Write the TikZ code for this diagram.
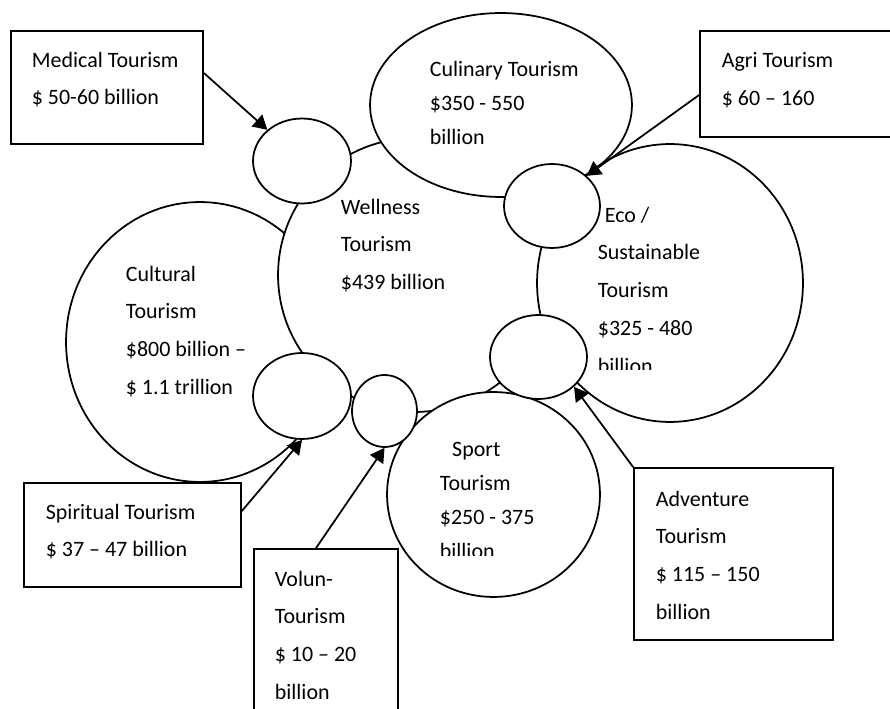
\documentclass[tikz,border=0pt]{standalone}
\usepackage{fontspec}
\setmainfont{Carlito}
\usetikzlibrary{arrows.meta, shapes, fit, positioning}
\begin{document}
\begin{tikzpicture}[x=0.02cm, y=-0.02cm, line width=1pt,
    ell/.style 2 args={ellipse, draw, fill=white, inner sep=0, minimum width=#1*0.04cm, minimum height=#2*0.04cm},
    box/.style={rectangle, draw, fill=white, inner sep=0},
    txt/.style={anchor=north west, inner sep=0, align=left, font=\fontsize{12.5}{21.5}\selectfont},
    arr/.style={-{Triangle[length=8pt,width=9pt]}}]
  \useasboundingbox (0,0) rectangle (890,709);
  \node[ell={134}{140}] (cultural) at (200,342) {};
  \node[txt] (culttxt) at (125,265) {Cultural\\Tourism\\\$800 billion --\\\$ 1.1 trillion};
  \node[ell={137}{137}] (wellness) at (415,275) {};
  \node[txt] (welltxt) at (340,198) {Wellness\\Tourism\\\$439 billion};
  \node[ell={49}{42.5}] (medell) at (302,161) {};
  \node[ell={131}{92}] (culinary) at (501,105) {};
  \node[txt, font=\fontsize{12.5}{19.5}\selectfont] (culitxt) at (429,60) {Culinary Tourism\\\$350 - 550\\billion};
  \node[ell={133}{139}] (eco) at (670,283) {};
  \begin{scope}
    \clip (590,200) rectangle (730,370);
    \node[txt] (ecotxt) at (597,206) {\hspace*{4pt}Eco /\\Sustainable\\Tourism\\\$325 - 480\\billion};
  \end{scope}
  \node[ell={48}{42}] (agriell) at (552,206) {};
  \node[ell={106.5}{102.5}] (sport) at (493.5,494.5) {};
  \begin{scope}
    \clip (430,430) rectangle (570,556);
    \node[txt, font=\fontsize{12.5}{19.5}\selectfont] (sporttxt) at (439,441) {\hspace*{7pt}Sport\\Tourism\\\$250 - 375\\billion};
  \end{scope}
  \node[ell={32.5}{36}] (volell) at (384.5,411) {};
  \node[ell={49}{43}] (spirell) at (302,396) {};
  \node[ell={48.5}{42}] (advell) at (538.5,357) {};

  \node[box, fit={(11,31) (203,144)}] (medbox) {};
  \node[txt] (medtxt) at (31,51) {Medical Tourism\\\$ 50-60 billion};
  \node[box, fit={(700,31) (900,137)}] (agribox) {};
  \node[txt] (agritxt) at (721,52) {Agri Tourism\\\$ 60 -- 160};
  \node[box, fit={(634,468) (833,640)}] (advbox) {};
  \node[txt] (advtxt) at (655,490) {Adventure\\Tourism\\\$ 115 -- 150\\billion};
  \node[box, fit={(24,483) (241,587)}] (spirbox) {};
  \node[txt] (spirtxt) at (45,503) {Spiritual Tourism\\\$ 37 -- 47 billion};
  \node[box, fit={(254,549) (398,720)}] (volbox) {};
  \node[txt] (voltxt) at (274,570) {Volun-\\Tourism\\\$ 10 -- 20\\billion};

  \draw[arr] (medbox.east |- 0,73) -- (medell.138);
  \draw[arr] (agribox.west |- 0,95) -- (agriell.41);
  \draw[arr] (advbox.north west) -- (advell.-40);
  \draw[arr] (spirbox.east |- 0,511) -- (spirell.south);
  \draw[arr] (volbox.north -| 316,0) -- (volell.south);
\end{tikzpicture}
\end{document}
